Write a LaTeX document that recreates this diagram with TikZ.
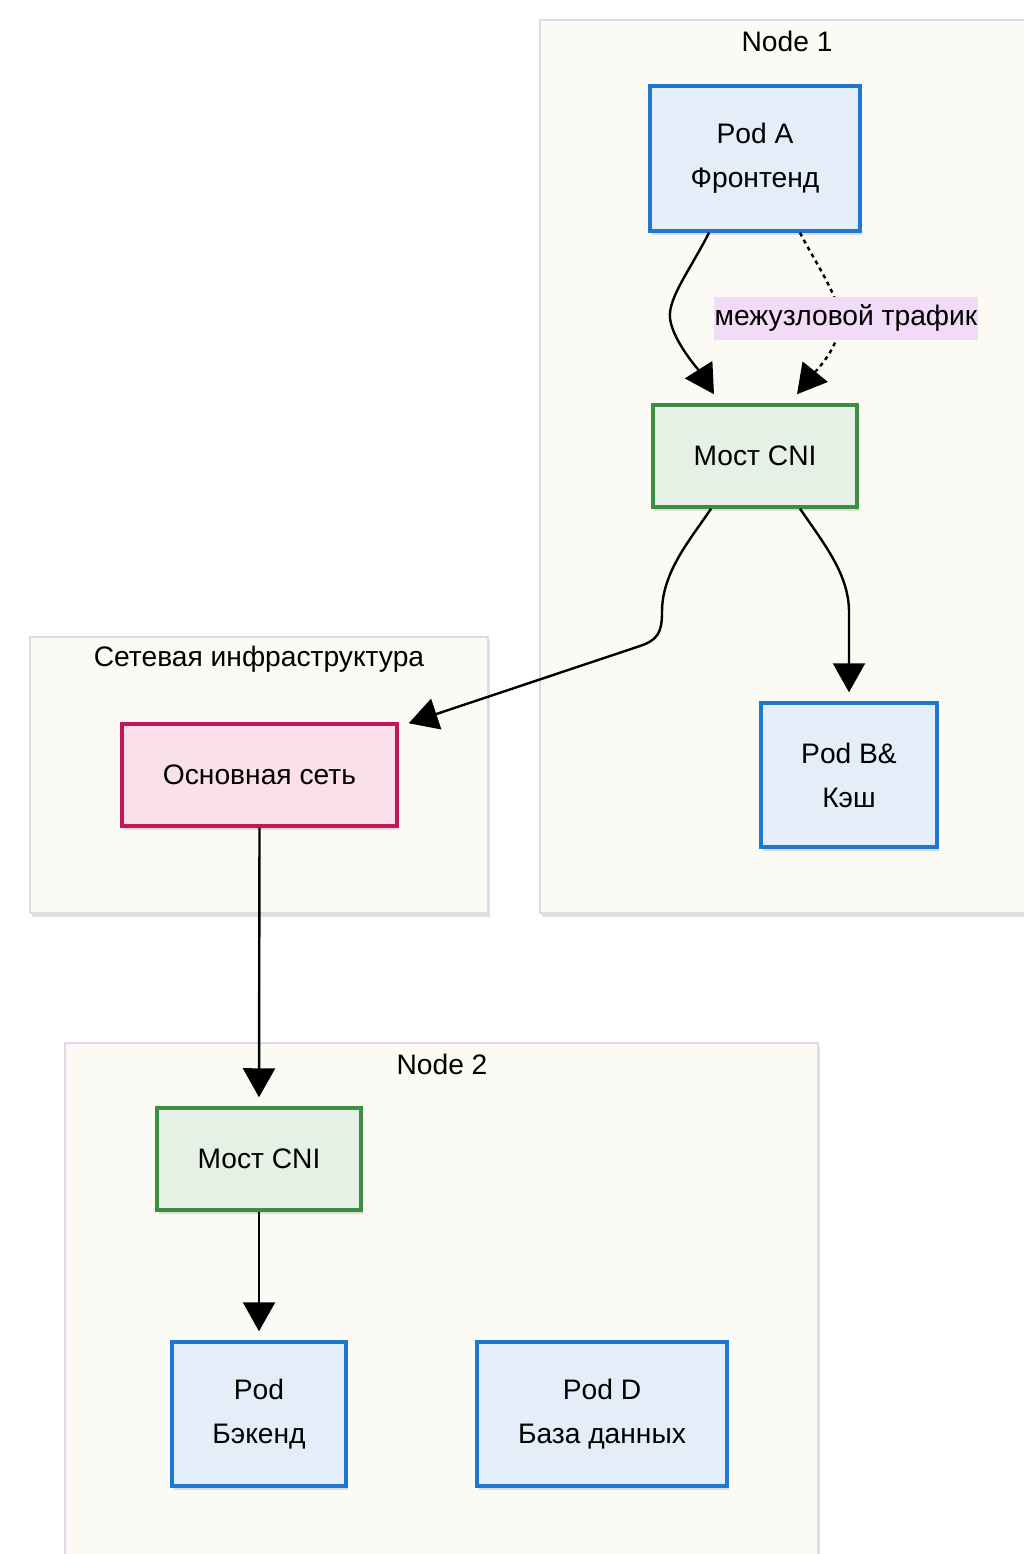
\documentclass[tikz,border=0pt]{standalone}
\usepackage{fontspec}
\setmainfont{Liberation Sans}
\usetikzlibrary{arrows.meta,shadows,calc}

\definecolor{podline}{HTML}{1E78D0}
\definecolor{podfill}{HTML}{E3EEF9}
\definecolor{brline}{HTML}{3C8F40}
\definecolor{brfill}{HTML}{E5F1E4}
\definecolor{netline}{HTML}{C2185B}
\definecolor{netfill}{HTML}{F9E0EA}
\definecolor{grpline}{HTML}{E4D8E6}
\definecolor{grpfill}{HTML}{FCFAF5}
\definecolor{lblfill}{HTML}{F1DBF6}

\tikzset{
  txt/.style={font=\fontsize{28.2}{46}\selectfont, align=center},
  softshadow/.style={drop shadow={shadow xshift=2pt, shadow yshift=-4pt, opacity=0.12, fill=black}},
  group/.style={rectangle, draw=grpline, line width=1.5pt, fill=grpfill, inner sep=0pt, softshadow},
  grouptitle/.style={txt, inner sep=0pt},
  pod/.style={rectangle, txt, draw=podline, fill=podfill, line width=3.5pt, inner sep=0pt, softshadow},
  bridge/.style={rectangle, txt, draw=brline, fill=brfill, line width=3.5pt, inner sep=0pt, softshadow},
  corenet/.style={rectangle, txt, draw=netline, fill=netfill, line width=3.5pt, inner sep=0pt, softshadow},
  link/.style={line width=2.4pt, draw=black, -{Triangle[length=29pt,width=32pt]}},
  dotlink/.style={link, dash pattern=on 4pt off 4pt},
  linklabel/.style={txt, fill=lblfill, inner xsep=1pt, inner ysep=0pt, minimum height=43pt}
}

\begin{document}
\begin{tikzpicture}[x=1pt,y=-1pt]
\useasboundingbox (0,0) rectangle (1023,1554);
\fill[white] (0,0) rectangle (1023,1554);

% groups
\node[group, minimum width=486pt, minimum height=893pt] (g1) at (783,466.5) {};
\node[group, minimum width=458pt, minimum height=276pt] (ginf) at (259,775) {};
\node[group, minimum width=753pt, minimum height=515pt] (g2) at (441.5,1300.5) {};

\node[grouptitle] (t1) at (787,41) {Node 1};
\node[grouptitle] (tinf) at (259,659) {Сетевая инфраструктура};
\node[grouptitle] (t2) at (442,1064) {Node 2};

% Node 1
\node[pod, minimum width=210pt, minimum height=145pt] (podA) at (755,158.5) {\raisebox{-2pt}{Pod A}\\Фронтенд};
\node[bridge, minimum width=204pt, minimum height=102pt] (cni1) at (755,456) {Мост CNI};
\node[pod, minimum width=176pt, minimum height=144pt] (podB) at (849,775) {\raisebox{-2pt}{Pod B\&}\\Кэш};

% network
\node[corenet, minimum width=275pt, minimum height=102pt] (core) at (259.5,775) {Основная сеть};

% Node 2
\node[bridge, minimum width=204pt, minimum height=102pt] (cni2) at (259,1159) {Мост CNI};
\node[pod, minimum width=174pt, minimum height=144pt] (podC) at (259,1414) {\raisebox{-2pt}{Pod}\\Бэкенд};
\node[pod, minimum width=250pt, minimum height=144pt] (podD) at (602,1414) {\raisebox{-2pt}{Pod D}\\База данных};

% connectors
\draw[link] ([xshift=-46pt]podA.south) .. controls (690,270) and (668,298) .. (670,318)
  .. controls (672,340) and (700,372) .. ([xshift=-41pt,yshift=9pt]cni1.north);
\draw[dotlink] ([xshift=45pt]podA.south) .. controls (815,262) and (838,295) .. (840,318)
  .. controls (842,345) and (815,372) .. ([xshift=42pt,yshift=9pt]cni1.north);
\node[linklabel] (lbl) at (846,318) {межузловой трафик};

\draw[link] ([xshift=-44pt]cni1.south) .. controls (690,540) and (662,572) .. (662,612)
  .. controls (662,632) and (658,640) .. (640,646) -- ([xshift=10pt,yshift=-1pt]core.north east);
\draw[link] ([xshift=45pt]cni1.south) .. controls (825,545) and (849,575) .. (849,612)
  -- ([yshift=9pt]podB.north);

\draw[link] (core.south) -- ([yshift=9pt]cni2.north);
\draw[link] (cni2.south) -- ([yshift=9pt]podC.north);
\end{tikzpicture}
\end{document}
